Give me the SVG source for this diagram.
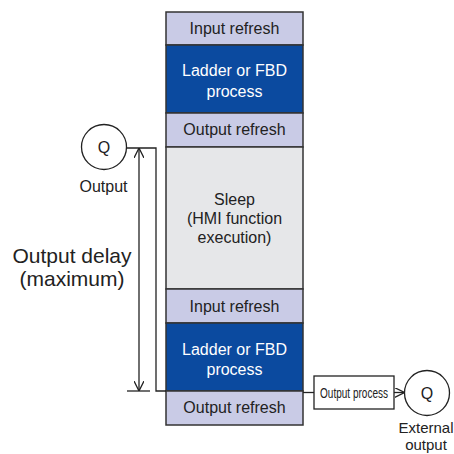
<svg xmlns="http://www.w3.org/2000/svg" width="454" height="454" viewBox="0 0 454 454">
<defs>
<style>
.t{font-family:"Liberation Sans",Arial,sans-serif;font-size:16px;fill:#222;text-anchor:middle}
.big{font-size:21px}
.sm{font-size:14px}
.ex{font-size:15px}
.w{fill:#fff}
.lt{fill:#c9cbe6;stroke:#333;stroke-width:1.5}
.dk{fill:#0b4a9f;stroke:#333;stroke-width:1.5}
.gy{fill:#e6e7e9;stroke:#333;stroke-width:1.5}
.ln{fill:none;stroke:#222;stroke-width:1.3}
.c{fill:#fff;stroke:#222;stroke-width:1.3}
</style>
<marker id="ah" viewBox="0 0 10 10" refX="10" refY="5" markerWidth="10" markerHeight="10" markerUnits="userSpaceOnUse" orient="auto">
<path d="M0,0 L10,5 L0,10" fill="none" stroke="#222" stroke-width="1.3"/>
</marker>
</defs>
<rect width="454" height="454" fill="#fff"/>
<g id="input-refresh-1"><rect class="lt" x="166" y="12" width="137" height="33"/><text class="t" x="234.5" y="34">Input refresh</text></g>
<g id="ladder-1"><rect class="dk" x="166" y="45" width="137" height="68"/><text class="t w" x="234.5" y="76">Ladder or FBD</text><text class="t w" x="234.5" y="97">process</text></g>
<g id="output-refresh-1"><rect class="lt" x="166" y="113" width="137" height="34"/><text class="t" x="234.5" y="135">Output refresh</text></g>
<g id="sleep"><rect class="gy" x="166" y="147" width="137" height="142"/><text class="t" x="234.5" y="205">Sleep</text><text class="t" x="234.5" y="224">(HMI function</text><text class="t" x="234.5" y="243">execution)</text></g>
<g id="input-refresh-2"><rect class="lt" x="166" y="289" width="137" height="34"/><text class="t" x="234.5" y="312">Input refresh</text></g>
<g id="ladder-2"><rect class="dk" x="166" y="323" width="137" height="68"/><text class="t w" x="234.5" y="355">Ladder or FBD</text><text class="t w" x="234.5" y="375">process</text></g>
<g id="output-refresh-2"><rect class="lt" x="166" y="391" width="137" height="34"/><text class="t" x="234.5" y="413">Output refresh</text></g>
<g id="output-q"><circle class="c" cx="104" cy="147" r="22.5"/><text class="t" x="104" y="153">Q</text><text class="t" x="103.5" y="192">Output</text></g>
<g id="output-process"><rect class="c" x="314" y="376" width="80" height="33"/><text class="t sm" x="354" y="398" textLength="68" lengthAdjust="spacingAndGlyphs">Output process</text></g>
<g id="external-q"><circle class="c" cx="427" cy="393" r="22.5"/><text class="t" x="427" y="399">Q</text><text class="t ex" x="426" y="433">External</text><text class="t ex" x="426" y="450">output</text></g>
<g id="delay-label"><text class="t big" x="72" y="263">Output delay</text><text class="t big" x="72" y="286">(maximum)</text></g>
<g id="connectors">
<polyline class="ln" points="126.5,148 156,148 156,391 166,391"/>
<line class="ln" x1="139" y1="270" x2="139" y2="148" marker-end="url(#ah)"/>
<line class="ln" x1="139" y1="270" x2="139" y2="391" marker-end="url(#ah)"/>
<line class="ln" x1="127" y1="391" x2="150" y2="391"/>
<line class="ln" x1="303" y1="392.5" x2="314" y2="392.5"/>
<line class="ln" x1="394" y1="392.5" x2="404.5" y2="392.5" marker-end="url(#ah)"/>
</g>
</svg>
